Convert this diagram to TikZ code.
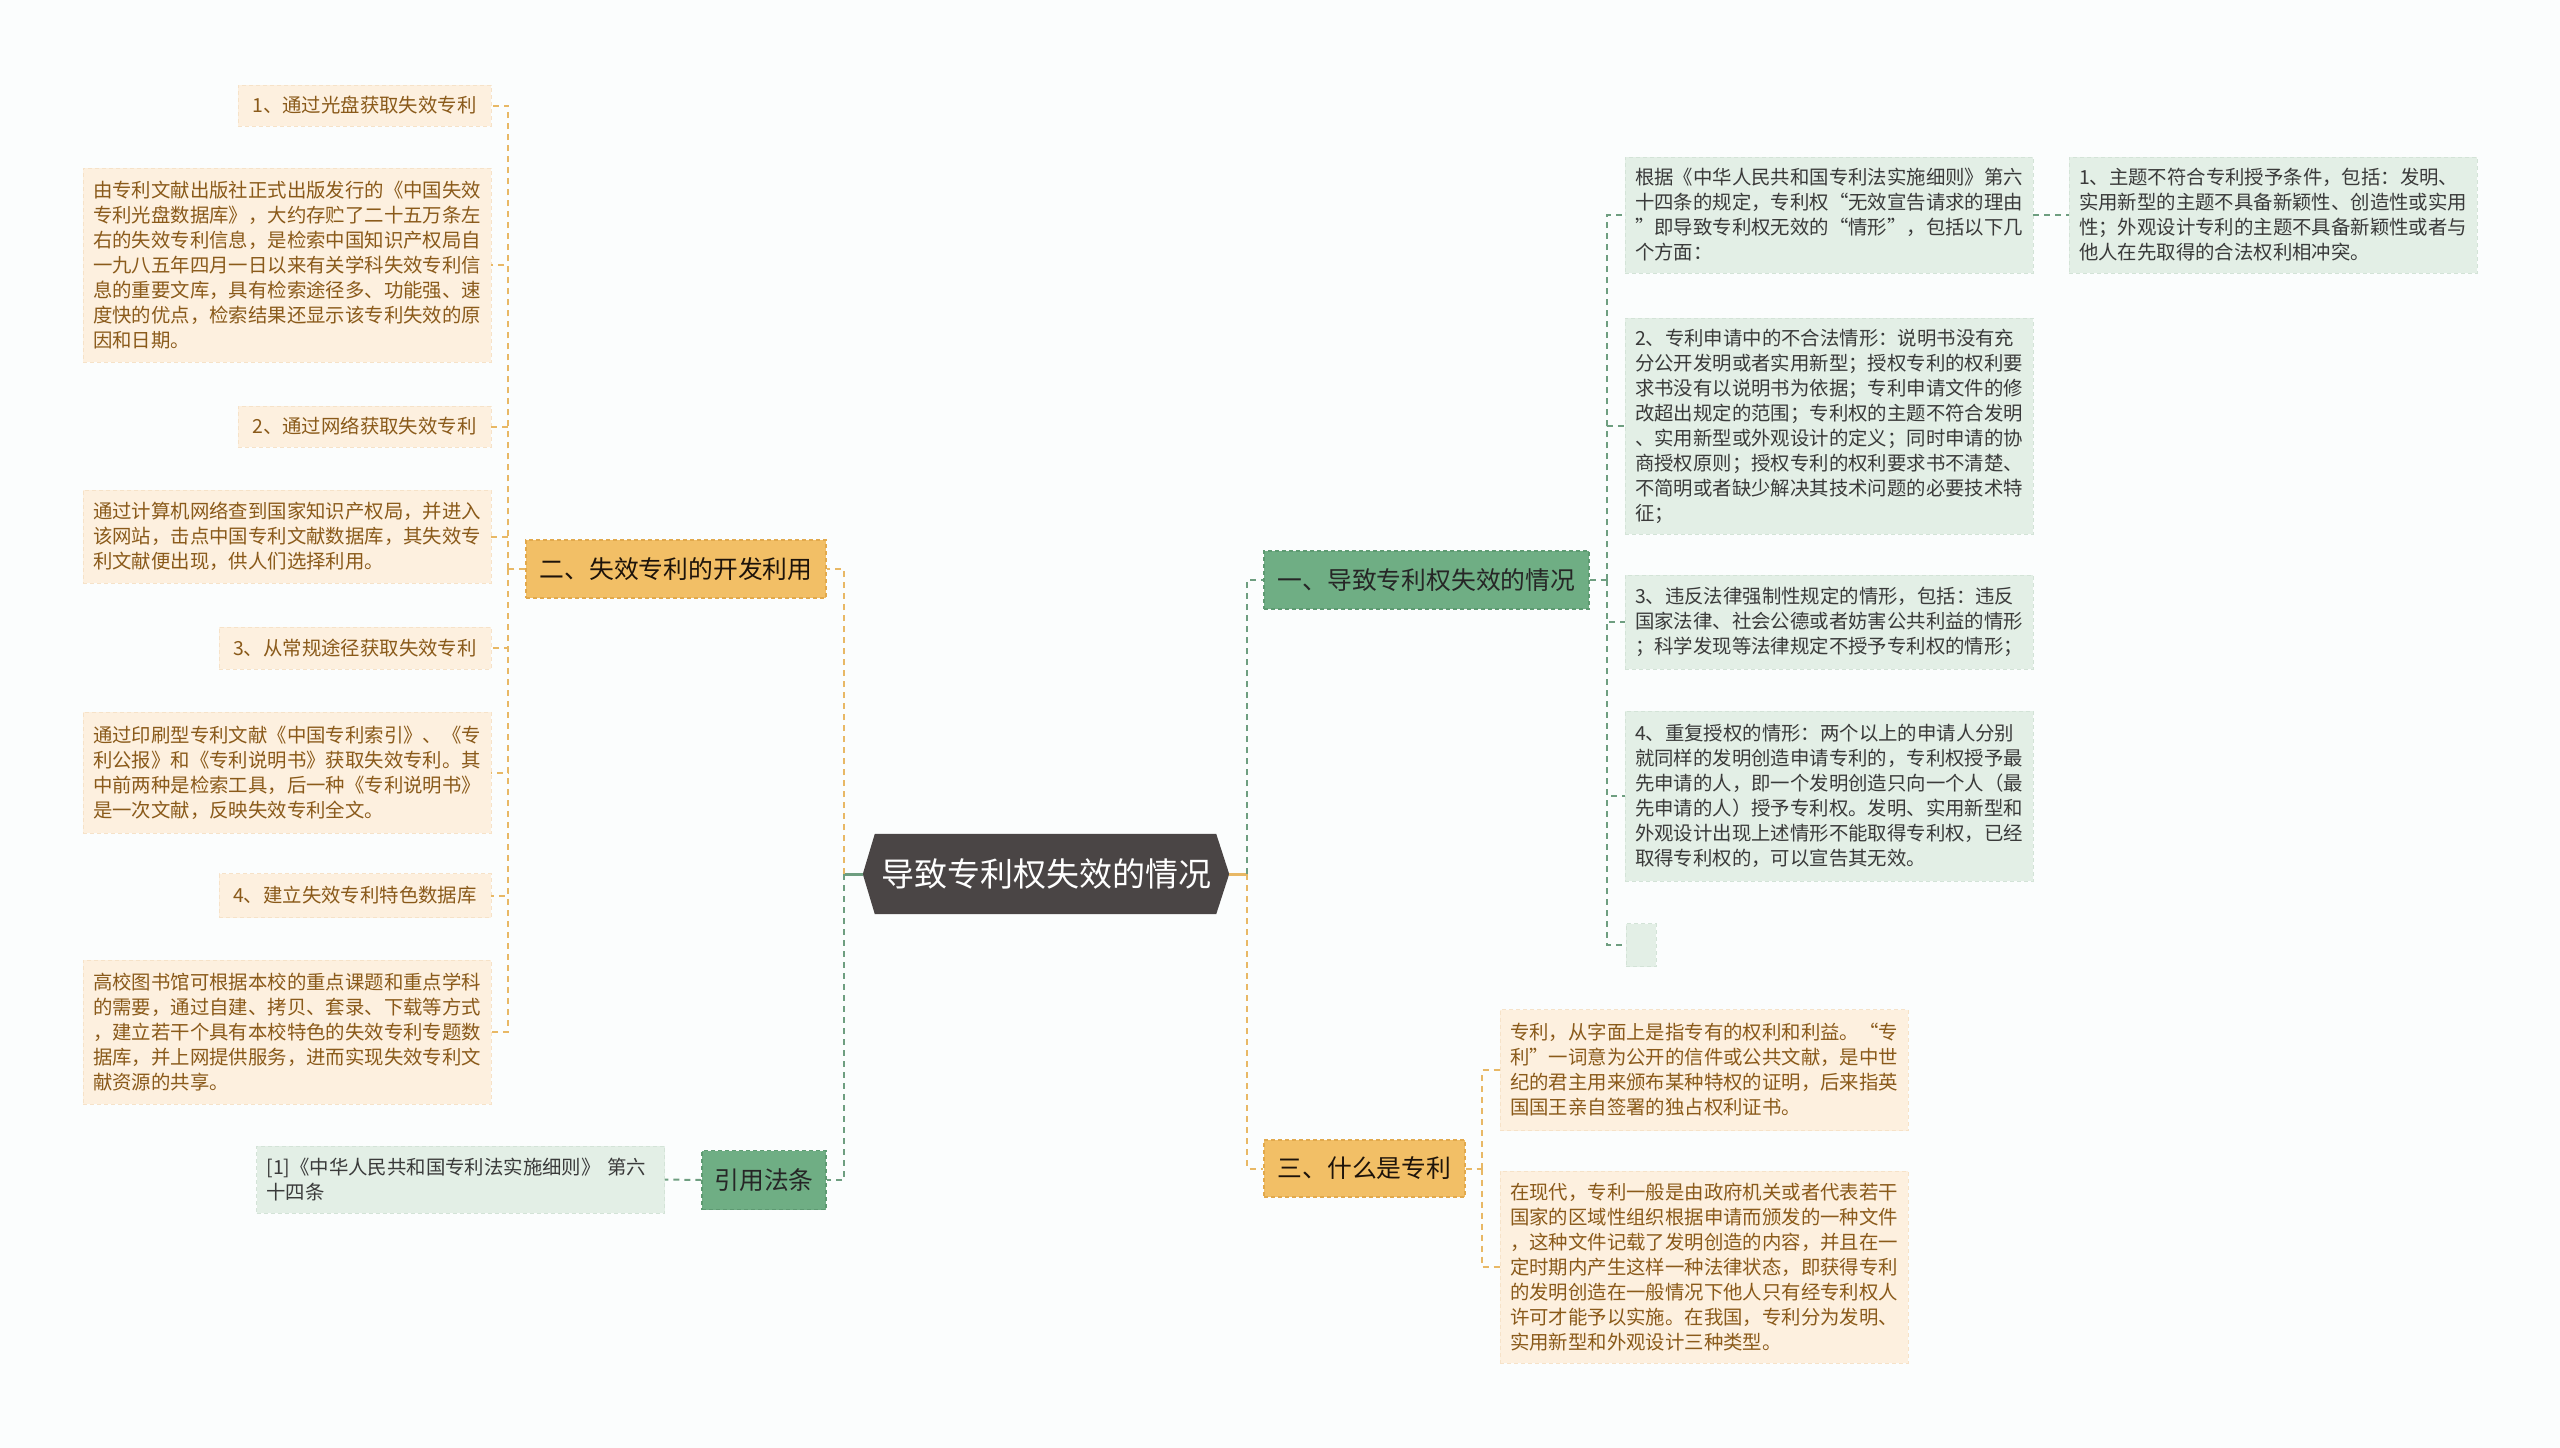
\documentclass[tikz,border=0pt]{standalone}
\usepackage{fontspec}
\setmainfont{Noto Sans CJK SC}
\usetikzlibrary{calc}
\definecolor{bgc}{HTML}{FBFDFD}
\definecolor{rootfill}{HTML}{4A4545}
\definecolor{mainO}{HTML}{F2BF66}
\definecolor{mainObd}{HTML}{E2A94C}
\definecolor{mainG}{HTML}{6FAE84}
\definecolor{mainGbd}{HTML}{5E9A72}
\definecolor{leafO}{HTML}{FDF0DF}
\definecolor{leafObd}{HTML}{F6E2C8}
\definecolor{leafG}{HTML}{E3EFE6}
\definecolor{leafGbd}{HTML}{D3E3D7}
\definecolor{brownt}{HTML}{8A5A1A}
\definecolor{darkt}{HTML}{3A3A3A}
\definecolor{lineO}{HTML}{E8B865}
\definecolor{lineG}{HTML}{6E9E80}
\tikzset{
  rootnode/.style={minimum width=366pt, minimum height=80pt, inner sep=0pt, text=white,
    font=\fontsize{33}{40}\selectfont},
  mainbase/.style={minimum height=58pt, inner sep=0pt, dashed, dash pattern=on 4pt off 3pt,
    line width=1.2pt, font=\fontsize{24.8}{30}\selectfont},
  mainO/.style={mainbase, fill=mainO, draw=mainObd, text=black!85!brown},
  mainG/.style={mainbase, fill=mainG, draw=mainGbd, text=black!85},
  leafbase/.style={inner xsep=10pt, inner ysep=0pt, align=left, dashed,
    dash pattern=on 4pt off 3pt, line width=0.8pt, font=\fontsize{19.4}{25}\selectfont},
  leafO/.style={leafbase, fill=leafO, draw=leafObd, text=brownt},
  leafG/.style={leafbase, fill=leafG, draw=leafGbd, text=darkt},
  wide/.style={text width=388pt, minimum width=408pt},
  conO/.style={draw=lineO, line width=2pt, dash pattern=on 6pt off 5pt},
  conG/.style={draw=lineG, line width=2pt, dash pattern=on 6pt off 5pt},
  solO/.style={draw=lineO, line width=3pt},
  solG/.style={draw=lineG, line width=3pt},
}
\begin{document}
\begin{tikzpicture}[x=1pt, y=-1pt]
\useasboundingbox (0,0) rectangle (2560,1448);
\fill[bgc] (0,0) rectangle (2560,1448);

% root
\node[rootnode] (root) at (1046,874) {};
\fill[rootfill] (root.west) -- ([xshift=12pt]root.north west) -- ([xshift=-13pt]root.north east)
  -- (root.east) -- ([xshift=-13pt]root.south east) -- ([xshift=12pt]root.south west) -- cycle;
\node[rootnode] (roottext) at (root.center) {导致专利权失效的情况};

% main branches
\node[mainO, minimum width=300pt] (n2) at (676,569) {二、失效专利的开发利用};
\node[mainG, minimum width=124pt, minimum height=59pt] (nlaw) at (764,1180) {引用法条};
\node[mainG, minimum width=325pt] (n1) at (1426.5,580) {一、导致专利权失效的情况};
\node[mainO, minimum width=201pt, minimum height=57pt] (n3) at (1364.5,1168.5) {三、什么是专利};

% left leaves
\node[leafO, minimum width=253pt, minimum height=41pt] (A1) at (364.5,105.5) {1、通过光盘获取失效专利};
\node[leafO, wide, minimum height=194pt] (A2) at (287,265) {由专利文献出版社正式出版发行的《中国失效\\专利光盘数据库》，大约存贮了二十五万条左\\右的失效专利信息，是检索中国知识产权局自\\一九八五年四月一日以来有关学科失效专利信\\息的重要文库，具有检索途径多、功能强、速\\度快的优点，检索结果还显示该专利失效的原\\因和日期。};
\node[leafO, minimum width=253pt, minimum height=41pt] (A3) at (364.5,426.5) {2、通过网络获取失效专利};
\node[leafO, wide, minimum height=93pt] (A4) at (287,536.5) {通过计算机网络查到国家知识产权局，并进入\\该网站，击点中国专利文献数据库，其失效专\\利文献便出现，供人们选择利用。};
\node[leafO, minimum width=272pt, minimum height=42pt] (A5) at (355,648) {3、从常规途径获取失效专利};
\node[leafO, wide, minimum height=121pt] (A6) at (287,772.5) {通过印刷型专利文献《中国专利索引》、《专\\利公报》和《专利说明书》获取失效专利。其\\中前两种是检索工具，后一种《专利说明书》\\是一次文献，反映失效专利全文。};
\node[leafO, minimum width=272pt, minimum height=44pt] (A7) at (355,895.5) {4、建立失效专利特色数据库};
\node[leafO, wide, minimum height=144pt] (A8) at (287,1032) {高校图书馆可根据本校的重点课题和重点学科\\的需要，通过自建、拷贝、套录、下载等方式\\，建立若干个具有本校特色的失效专利专题数\\据库，并上网提供服务，进而实现失效专利文\\献资源的共享。};

% law leaf
\node[leafG, wide, minimum height=67pt] (L0) at (460.5,1179.5) {[1]《中华人民共和国专利法实施细则》 第六\\十四条};

% right leaves of 一
\node[leafG, wide, minimum height=116pt] (La) at (1829,215) {根据《中华人民共和国专利法实施细则》第六\\十四条的规定，专利权“无效宣告请求的理由\\”即导致专利权无效的“情形”，包括以下几\\个方面：};
\node[leafG, wide, minimum height=116pt] (Lz) at (2273,215) {1、主题不符合专利授予条件，包括：发明、\\实用新型的主题不具备新颖性、创造性或实用\\性；外观设计专利的主题不具备新颖性或者与\\他人在先取得的合法权利相冲突。};
\node[leafG, wide, minimum height=216pt] (Lb) at (1829,426) {2、专利申请中的不合法情形：说明书没有充\\分公开发明或者实用新型；授权专利的权利要\\求书没有以说明书为依据；专利申请文件的修\\改超出规定的范围；专利权的主题不符合发明\\、实用新型或外观设计的定义；同时申请的协\\商授权原则；授权专利的权利要求书不清楚、\\不简明或者缺少解决其技术问题的必要技术特\\征；};
\node[leafG, wide, minimum height=94pt] (Lc) at (1829,622) {3、违反法律强制性规定的情形，包括：违反\\国家法律、社会公德或者妨害公共利益的情形\\；科学发现等法律规定不授予专利权的情形；};
\node[leafG, wide, minimum height=170pt] (Ld) at (1829,796) {4、重复授权的情形：两个以上的申请人分别\\就同样的发明创造申请专利的，专利权授予最\\先申请的人，即一个发明创造只向一个人（最\\先申请的人）授予专利权。发明、实用新型和\\外观设计出现上述情形不能取得专利权，已经\\取得专利权的，可以宣告其无效。};
\node[leafG, minimum width=30pt, minimum height=43pt, inner xsep=0pt] (Le) at (1641,945) {};

% leaves of 三
\node[leafO, wide, minimum height=121pt] (Ma) at (1704,1070) {专利，从字面上是指专有的权利和利益。“专\\利”一词意为公开的信件或公共文献，是中世\\纪的君主用来颁布某种特权的证明，后来指英\\国国王亲自签署的独占权利证书。};
\node[leafO, wide, minimum height=192pt] (Mb) at (1704,1267) {在现代，专利一般是由政府机关或者代表若干\\国家的区域性组织根据申请而颁发的一种文件\\，这种文件记载了发明创造的内容，并且在一\\定时期内产生这样一种法律状态，即获得专利\\的发明创造在一般情况下他人只有经专利权人\\许可才能予以实施。在我国，专利分为发明、\\实用新型和外观设计三种类型。};

% junctions
\coordinate (jL) at (844,874);
\coordinate (jR) at (1247,874);
\coordinate (j2) at (508,569);
\coordinate (j1) at (1607,580);
\coordinate (j3) at (1482,1168.5);

% root connectors
\draw[solG] (root.west) -- (jL);
\draw[conO] (jL) |- (n2.east);
\draw[conG] (jL) |- (nlaw.east);
\draw[solO] (root.east) -- (jR);
\draw[conG] (jR) |- (n1.west);
\draw[conO] (jR) |- (n3.west);

% 二 children
\draw[conO] (n2.west) -- (j2);
\foreach \c in {A1,A2,A3,A4,A5,A6,A7,A8} { \draw[conO] (j2) |- (\c.east); }

% law
\draw[conG] (nlaw.west) -- (L0.east);

% 一 children
\draw[conG] (n1.east) -- (j1);
\foreach \c in {La,Lb,Lc,Ld,Le} { \draw[conG] (j1) |- (\c.west); }
\draw[conG] (La.east) -- (Lz.west);

% 三 children
\draw[conO] (n3.east) -- (j3);
\foreach \c in {Ma,Mb} { \draw[conO] (j3) |- (\c.west); }
\end{tikzpicture}
\end{document}
